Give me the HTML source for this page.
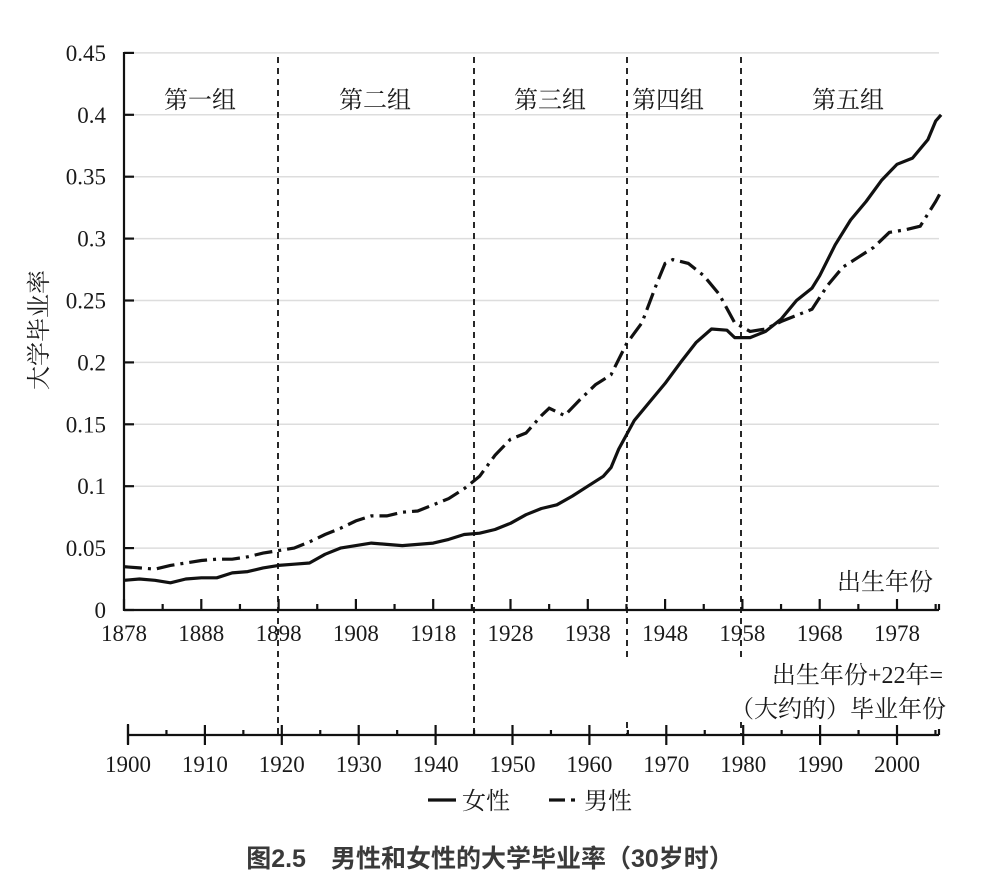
<!DOCTYPE html>
<html><head><meta charset="utf-8"><style>
body{margin:0;background:#fff;}
svg{display:block;}
.t{font-family:"Liberation Serif","Noto Serif CJK SC",serif;font-size:23px;fill:#1a1a1a;}
.c{font-family:"Liberation Serif","Noto Serif CJK SC","Noto Sans CJK SC",serif;font-size:24px;fill:#1a1a1a;}
</style></head><body>
<svg id="s" width="1000" height="889" xmlns="http://www.w3.org/2000/svg">
<g stroke="#ddd" stroke-width="1.5" id="grid"></g>
<g id="ax" stroke="#111" stroke-width="2.2" fill="none"></g>
<g id="lbl"></g>
<path id="f" fill="none" stroke="#111" stroke-width="3.2" stroke-linejoin="round"/>
<path id="m" fill="none" stroke="#111" stroke-width="3.2" stroke-dasharray="18,6,3,6"/>
<g stroke="#111" stroke-width="1.8" stroke-dasharray="6,5">
<line x1="278" y1="57" x2="278" y2="735"/>
<line x1="474" y1="57" x2="474" y2="735"/>
<line x1="627" y1="57" x2="627" y2="660"/>
<line x1="741" y1="57" x2="741" y2="660"/>
<line x1="627" y1="722" x2="627" y2="735"/>
<line x1="741" y1="722" x2="741" y2="735"/>
</g>
<text class="c" x="200" y="108" text-anchor="middle">第一组</text>
<text class="c" x="375" y="108" text-anchor="middle">第二组</text>
<text class="c" x="550" y="108" text-anchor="middle">第三组</text>
<text class="c" x="668" y="108" text-anchor="middle">第四组</text>
<text class="c" x="848" y="108" text-anchor="middle">第五组</text>
<text class="c" x="933" y="590" text-anchor="end">出生年份</text>
<text class="c" x="943" y="683" text-anchor="end">出生年份+22年=</text>
<text class="c" x="946" y="717" text-anchor="end">（大约的）毕业年份</text>
<text class="c" transform="translate(47,330) rotate(-90)" text-anchor="middle">大学毕业率</text>
<line x1="428" y1="800" x2="456" y2="800" stroke="#111" stroke-width="3.2"/>
<text class="c" x="462" y="809">女性</text>
<line x1="549" y1="800" x2="565" y2="800" stroke="#111" stroke-width="3.2"/>
<line x1="571" y1="800" x2="575" y2="800" stroke="#111" stroke-width="3.2"/>
<text class="c" x="584" y="809">男性</text>
<text x="490" y="867" text-anchor="middle" style="font-family:'Liberation Sans','Noto Sans CJK SC',sans-serif;font-size:25px;font-weight:bold;fill:#3a3a3a">图2.5　男性和女性的大学毕业率（30岁时）</text>
</svg>
<script>
var NS="http://www.w3.org/2000/svg";
function X(y){return 124+(y-1878)*7.73;}
function Y(v){return 610-v*1238;}
function el(p,t,a,txt){var e=document.createElementNS(NS,t);for(var k in a)e.setAttribute(k,a[k]);if(txt)e.textContent=txt;document.getElementById(p).appendChild(e);}
for(var i=1;i<=9;i++){el("grid","line",{x1:124,x2:939,y1:Y(i*0.05),y2:Y(i*0.05)});}
var labs=["0","0.05","0.1","0.15","0.2","0.25","0.3","0.35","0.4","0.45"];
for(var i=0;i<=9;i++){el("ax","line",{x1:124,x2:134,y1:Y(i*0.05),y2:Y(i*0.05)});el("lbl","text",{class:"t",x:106,y:Y(i*0.05)+8,"text-anchor":"end"},labs[i]);}
el("ax","line",{x1:124,y1:52,x2:124,y2:611});
el("ax","line",{x1:124,y1:610,x2:939,y2:610});
el("ax","line",{x1:939,y1:604,x2:939,y2:610});
for(var y=1878;y<=1983;y+=5){var big=(y-1878)%10==0;el("ax","line",{x1:X(y),x2:X(y),y1:610,y2:big?599:604});if(big)el("lbl","text",{class:"t",x:X(y),y:641,"text-anchor":"middle"},y);}
function X2(y){return 128+(y-1900)*7.69;}
el("ax","line",{x1:128,y1:735,x2:939,y2:735});
el("ax","line",{x1:939,y1:729,x2:939,y2:735});
el("ax","line",{x1:128,y1:724,x2:128,y2:744});
for(var y=1900;y<=2005;y+=5){var big=y%10==0;el("ax","line",{x1:X2(y),x2:X2(y),y1:big?725:730,y2:big?745:735});if(big)el("lbl","text",{class:"t",x:X2(y),y:772,"text-anchor":"middle"},y);}
var F=[[1878,.024],[1880,.025],[1882,.024],[1884,.022],[1886,.025],[1888,.026],[1890,.026],[1892,.030],[1894,.031],[1896,.034],[1898,.036],[1900,.037],[1902,.038],[1904,.045],[1906,.050],[1908,.052],[1910,.054],[1912,.053],[1914,.052],[1916,.053],[1918,.054],[1920,.057],[1922,.061],[1924,.062],[1926,.065],[1928,.070],[1930,.077],[1932,.082],[1934,.085],[1936,.092],[1938,.100],[1940,.108],[1941,.115],[1942,.13],[1944,.153],[1946,.168],[1948,.183],[1950,.200],[1952,.216],[1954,.227],[1956,.226],[1957,.220],[1959,.220],[1961,.225],[1963,.235],[1965,.25],[1967,.26],[1968,.27],[1970,.295],[1972,.315],[1974,.33],[1976,.347],[1978,.36],[1980,.365],[1982,.38],[1983,.395],[1983.7,.40]];
var M=[[1878,.035],[1880,.034],[1882,.033],[1884,.036],[1886,.038],[1888,.040],[1890,.041],[1892,.041],[1894,.043],[1896,.046],[1898,.048],[1900,.050],[1902,.055],[1904,.061],[1906,.066],[1908,.072],[1910,.076],[1912,.076],[1914,.079],[1916,.080],[1918,.085],[1920,.090],[1922,.098],[1924,.108],[1926,.125],[1928,.138],[1930,.143],[1932,.157],[1933,.163],[1935,.157],[1937,.170],[1939,.182],[1941,.190],[1943,.215],[1945,.232],[1947,.265],[1948,.28],[1949,.283],[1951,.280],[1953,.270],[1955,.255],[1957,.232],[1959,.225],[1961,.227],[1963,.233],[1965,.238],[1967,.243],[1969,.262],[1971,.277],[1973,.285],[1975,.293],[1977,.305],[1979,.307],[1981,.310],[1983,.330],[1983.7,.338]];
function P(a){return a.map(function(p,i){return (i?"L":"M")+X(p[0]).toFixed(1)+","+Y(p[1]).toFixed(1);}).join("");}
document.getElementById("f").setAttribute("d",P(F));
document.getElementById("m").setAttribute("d",P(M));
</script>
</body></html>
